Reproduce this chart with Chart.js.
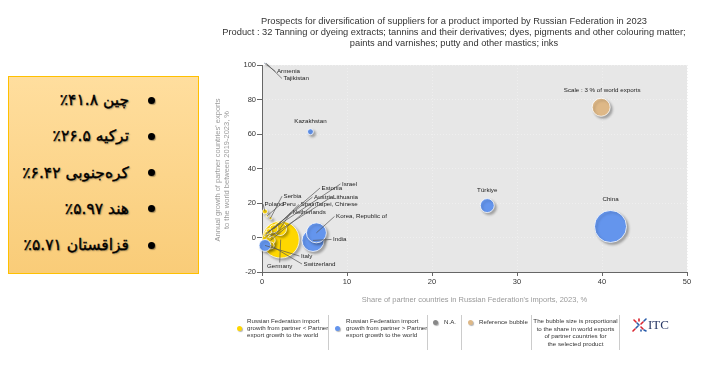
<!DOCTYPE html>
<html lang="en">
<head>
<meta charset="UTF-8">
<title>Suppliers of product 32 to the Russian Federation</title>
<style>
  body { margin: 0; background: #fff; font-family: "Liberation Sans", Arial, sans-serif; }
  #wrap { position: relative; width: 712px; height: 369px; overflow: hidden; }
  canvas { position: absolute; left: 0; top: 0; }
  #title { position: absolute; left: 104px; width: 700px; top: 16px; text-align: center;
           font-size: 9.3px; line-height: 11px; color: #333; }
  #box { position: absolute; left: 8px; top: 76px; width: 191px; height: 198px; box-sizing: border-box;
         border: 1.5px solid #FFC000; background: linear-gradient(#FFDE9E, #F9CC78); }
  .fa { position: absolute; right: 69px; direction: rtl; white-space: nowrap;
        font-family: "DejaVu Sans", sans-serif; font-size: 15.5px; line-height: 20px; color: #000;
        -webkit-text-stroke: 0.35px #000; text-shadow: 1px 1px 1.5px rgba(0,0,0,0.4); }
  .bul { position: absolute; left: 139px; width: 7px; height: 7px; border-radius: 50%; background: #000;
         box-shadow: 1px 1px 1px rgba(0,0,0,0.35); }
  .lg { position: absolute; font-size: 6.2px; line-height: 7.2px; color: #333; white-space: nowrap; }
  .dot { position: absolute; width: 5px; height: 5px; border-radius: 50%; box-shadow: 1px 1px 1px rgba(0,0,0,0.3); }
  .sep { position: absolute; top: 315px; width: 1px; height: 35px; background: #ccc; }
</style>
<script src="https://cdn.jsdelivr.net/npm/chart.js"></script>
</head>
<body>
<div id="wrap">
  <canvas id="bubbleChart" width="712" height="369"></canvas>
  <div id="title">Prospects for diversification of suppliers for a product imported by Russian Federation in 2023<br>
    Product : 32 Tanning or dyeing extracts; tannins and their derivatives; dyes, pigments and other colouring matter;<br>
    paints and varnishes; putty and other mastics; inks</div>
  <div id="box"></div>

  <div class="dot" style="left:237px;top:326px;background:#FFD700"></div>
  <div class="lg" style="left:247px;top:317px">Russian Federation import<br>growth from partner &lt; Partner<br>export growth to the world</div>
  <div class="sep" style="left:328px"></div>
  <div class="dot" style="left:335px;top:326px;background:#6495ED"></div>
  <div class="lg" style="left:346px;top:317px">Russian Federation import<br>growth from partner &gt; Partner<br>export growth to the world</div>
  <div class="sep" style="left:427px"></div>
  <div class="dot" style="left:433px;top:320px;background:#888"></div>
  <div class="lg" style="left:444px;top:318px">N.A.</div>
  <div class="sep" style="left:461px"></div>
  <div class="dot" style="left:468px;top:320px;background:#DEB887"></div>
  <div class="lg" style="left:479px;top:318px">Reference bubble</div>
  <div class="sep" style="left:531px"></div>
  <div class="lg" style="left:531px;width:89px;top:317px;text-align:center;line-height:7.5px">The bubble size is proportional<br>to the share in world exports<br>of partner countries for<br>the selected product</div>
  <div class="sep" style="left:619px"></div>
  <svg style="position:absolute;left:632px;top:318px" width="16" height="14" viewBox="0 0 16 14">
    <g stroke-width="1.6" stroke-linecap="round">
      <line x1="2" y1="2" x2="4" y2="4" stroke="#d9232e"/><line x1="5" y1="5" x2="7" y2="7" stroke="#2a5caa"/>
      <line x1="9" y1="9" x2="11" y2="11" stroke="#d9232e"/><line x1="12" y1="12" x2="14" y2="13" stroke="#2a5caa"/>
      <line x1="14" y1="1" x2="12" y2="3" stroke="#2a5caa"/><line x1="11" y1="4" x2="9" y2="6" stroke="#d9232e"/>
      <line x1="6" y1="8" x2="4" y2="10" stroke="#2a5caa"/><line x1="3" y1="11" x2="1" y2="13" stroke="#d9232e"/>
      <line x1="7" y1="1" x2="7" y2="3" stroke="#d9232e"/><line x1="9" y1="12" x2="9" y2="13" stroke="#2a5caa"/>
    </g>
  </svg>
  <div style="position:absolute;left:648px;top:317px;font-family:'Liberation Serif',serif;font-size:13px;color:#2b3a67">ITC</div>
</div>

<script>
// share of partner in Russian imports (x), partner export growth 2019-2023 (y), share in world exports (bubble size)
const countries    = ["China", "Türkiye", "Korea, Republic of", "India", "Kazakhstan", "Italy", "Armenia", "Tajikistan",
                      "Germany", "Netherlands", "Spain", "Taipei, Chinese", "Switzerland", "Austria", "Poland",
                      "Serbia", "Peru", "Israel", "Lithuania", "Estonia"];
const importShare  = [41.0, 26.5, 6.4, 6.0, 5.7, 0.35, 0.3, 0.5,
                      2.2, 2.1, 1.4, 1.0, 1.0, 0.8, 0.35, 1.0, 0.6, 0.5, 0.9, 0.3];
const exportGrowth = [6.4, 18.5, 2.7, -1.7, 61.3, -4.6, 101, 101,
                      -1.2, 5.0, 5.0, -1.7, -4.6, 3.5, 15.1, 11.2, 12.5, 2.5, 0.5, 1.0];
const worldShare   = [9.5, 1.8, 3.7, 4.5, 0.33, 1.3, 0.01, 0.01,
                      12.7, 1.66, 0.6, 0.8, 0.5, 0.3, 0.23, 0.08, 0.05, 0.1, 0.05, 0.02];
// true = Russian import growth from partner > partner export growth to the world
const importFaster = [true, true, true, true, true, true, true, true,
                      false, false, false, false, false, false, false, false, false, false, false, false];

const refLabel = "Scale : 3 % of world exports";
const refPoint = { x: 39.9, y: 75.5, share: 3 };

const xTicks = [0, 10, 20, 30, 40, 50];
const yTicks = [-20, 0, 20, 40, 60, 80, 100];

const topShares = ["چین ۴۱.۸٪", "ترکیه ۲۶.۵٪", "کره‌جنوبی ۶.۴۲٪", "هند ۵.۹۷٪", "قزاقستان ۵.۷۱٪"];

// label placement (pixel offsets from the bubble centre)
const labelLayout = {
  "China": { dx: 0, dy: -27, align: "center" },
  "Türkiye": { dx: 0, dy: -15.5, align: "center" },
  "Kazakhstan": { dx: 0, dy: -10, align: "center" },
  [refLabel]: { dx: 1, dy: -17, align: "center" },
  "Korea, Republic of": { dx: 19.6, dy: -16.4, align: "left", line: true },
  "India": { dx: 20, dy: -1, align: "left", line: true },
  "Italy": { dx: 36, dy: 10.6, align: "left", line: true },
  "Switzerland": { dx: 33, dy: 18.6, align: "left", line: true },
  "Germany": { dx: -1, dy: 27, align: "center", line: true },
  "Netherlands": { dx: 12.6, dy: -16.4, align: "left", line: true },
  "Poland": { dx: -0.5, dy: -7.5, align: "left", line: true },
  "Peru": { dx: 15.4, dy: -12, align: "left", line: true },
  "Serbia": { dx: 13, dy: -22, align: "left", line: true },
  "Spain": { dx: 26.6, dy: -24.4, align: "left", line: true },
  "Taipei, Chinese": { dx: 45, dy: -36.2, align: "left", line: true },
  "Austria": { dx: 45.2, dy: -34.4, align: "left", line: true },
  "Lithuania": { dx: 63.3, dy: -39.6, align: "left", line: true },
  "Estonia": { dx: 57, dy: -47.8, align: "left", line: true },
  "Israel": { dx: 75.7, dy: -49.2, align: "left", line: true },
  "Armenia": { dx: 12.4, dy: 8.2, align: "left", line: true },
  "Tajikistan": { dx: 17.2, dy: 15.2, align: "left", line: true }
};

// left box with the top suppliers
const box = document.getElementById("box");
topShares.forEach((t, i) => {
  const cy = 23 + i * 36.25;
  const d = document.createElement("div");
  d.className = "fa"; d.textContent = t; d.style.top = (cy - 10) + "px";
  box.appendChild(d);
  const b = document.createElement("div");
  b.className = "bul"; b.style.top = (cy - 3.5) + "px";
  box.appendChild(b);
});

const REF_R = 9;
const radiusOf = s => REF_R * Math.sqrt(s / 3);

function points(faster) {
  const pts = [];
  countries.forEach((c, i) => {
    if (importFaster[i] !== faster) return;
    pts.push({ x: importShare[i], y: exportGrowth[i], r: radiusOf(worldShare[i]), name: c });
  });
  return pts.sort((a, b) => b.r - a.r);
}

const plotBg = {
  id: "plotBg",
  beforeDraw(chart) {
    const a = chart.chartArea, ctx = chart.ctx;
    ctx.save();
    ctx.fillStyle = "#E7E7E7";
    ctx.fillRect(a.left, a.top, a.right - a.left, a.bottom - a.top);
    ctx.restore();
  }
};

const bubbleShadow = {
  id: "bubbleShadow",
  beforeDatasetDraw(chart) {
    const ctx = chart.ctx;
    ctx.save();
    ctx.shadowColor = "rgba(0,0,0,0.3)";
    ctx.shadowBlur = 2.5;
    ctx.shadowOffsetX = 2;
    ctx.shadowOffsetY = 2;
  },
  afterDatasetDraw(chart) { chart.ctx.restore(); }
};

const pointLabels = {
  id: "pointLabels",
  afterDatasetsDraw(chart) {
    const ctx = chart.ctx, a = chart.chartArea;
    ctx.save();
    ctx.font = "6.2px 'Liberation Sans', Arial, sans-serif";
    ctx.textBaseline = "middle";
    chart.data.datasets.forEach((ds, di) => {
      const meta = chart.getDatasetMeta(di);
      meta.data.forEach((el, i) => {
        const name = ds.data[i].name;
        const L = labelLayout[name];
        if (!L) return;
        const ax = el.x + L.dx, ay = el.y + L.dy;
        if (L.line) {
          let ex = ax - 1.5, ey = ay;
          if (L.align === "center") { ex = ax; ey = ay - 4; }
          ctx.strokeStyle = "#555";
          ctx.lineWidth = 0.7;
          ctx.beginPath();
          ctx.moveTo(el.x, el.y);
          ctx.lineTo(ex, ey);
          ctx.stroke();
        }
        ctx.fillStyle = "#222";
        ctx.textAlign = L.align;
        ctx.fillText(name, ax, ay);
      });
    });
    // axis titles
    ctx.fillStyle = "#9a9a9a";
    ctx.font = "7.5px 'Liberation Sans', Arial, sans-serif";
    ctx.textAlign = "center";
    ctx.fillText("Share of partner countries in Russian Federation's imports, 2023, %", (a.left + a.right) / 2, 300);
    ctx.translate(222, 170);
    ctx.rotate(-Math.PI / 2);
    ctx.fillText("Annual growth of partner countries' exports", 0, -4);
    ctx.fillText("to the world between 2019-2023, %", 0, 4.5);
    ctx.restore();
  }
};

const tickFont = { family: "'Liberation Sans', Arial, sans-serif", size: 7.5 };

new Chart(document.getElementById("bubbleChart"), {
  type: "bubble",
  data: {
    datasets: [
      { label: "lower", data: points(false), backgroundColor: "#FFD700", borderColor: "#fff", borderWidth: 0.8, clip: false, order: 3 },
      { label: "higher", data: points(true), backgroundColor: "#6495ED", borderColor: "#fff", borderWidth: 0.8, clip: false, order: 2 },
      { label: "reference", data: [{ x: refPoint.x, y: refPoint.y, r: radiusOf(refPoint.share), name: refLabel }],
        backgroundColor: "#DEB887", borderColor: "#fff", borderWidth: 0.8, clip: false, order: 1 }
    ]
  },
  options: {
    responsive: false,
    animation: false,
    devicePixelRatio: 1,
    layout: { padding: { top: 65, right: 25, bottom: 0, left: 0 } },
    plugins: { legend: { display: false }, tooltip: { enabled: false }, title: { display: false } },
    scales: {
      x: {
        type: "linear", min: 0, max: 50,
        afterBuildTicks: s => { s.ticks = xTicks.map(v => ({ value: v })); },
        afterFit: s => { s.height = 97; },
        ticks: { font: tickFont, color: "#333", padding: 1 },
        grid: { color: "#efefef", tickColor: "#666", tickLength: 4 },
        border: { color: "#666", width: 1, dash: [1, 2] }
      },
      y: {
        type: "linear", min: -20, max: 100,
        afterBuildTicks: s => { s.ticks = yTicks.map(v => ({ value: v })); },
        afterFit: s => { s.width = 262; },
        ticks: { font: tickFont, color: "#333", padding: 1 },
        grid: { color: "#efefef", tickColor: "#666", tickLength: 5 },
        border: { color: "#666", width: 1, dash: [1, 2] }
      }
    }
  },
  plugins: [plotBg, bubbleShadow, pointLabels]
});
</script>
</body>
</html>
